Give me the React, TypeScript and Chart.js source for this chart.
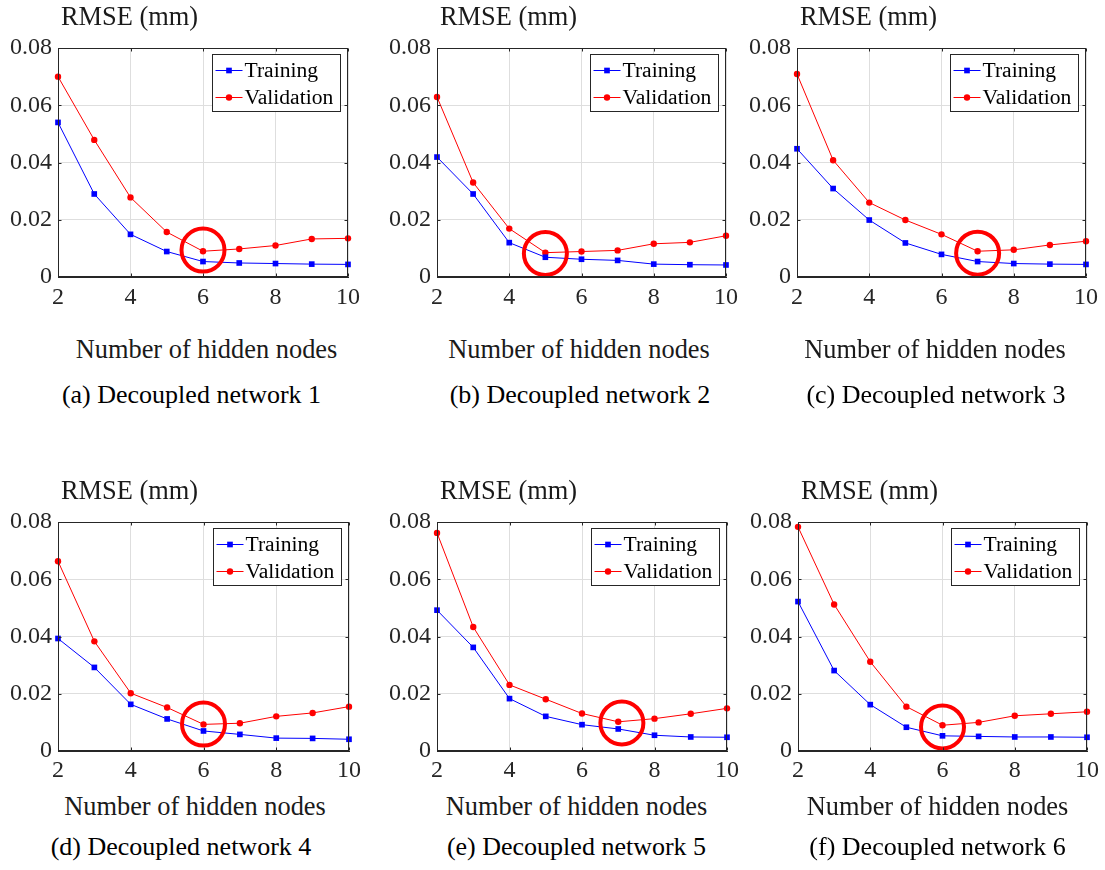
import React, { useEffect, useRef } from "react";
import { Chart, registerables } from "chart.js";

Chart.register(...registerables);

// ---------- data ----------
const hiddenNodes = [2, 3, 4, 5, 6, 7, 8, 9, 10];
const xTickValues = [2, 4, 6, 8, 10];
const xTickLabels = ["2", "4", "6", "8", "10"];
const yTickValues = [0, 0.02, 0.04, 0.06, 0.08];
const yTickLabels = ["0", "0.02", "0.04", "0.06", "0.08"];
const seriesNames = ["Training", "Validation"];
const xAxisTitle = "Number of hidden nodes";
const yAxisTitle = "RMSE (mm)";

const trainingA = [0.054, 0.029, 0.0149, 0.0089, 0.0054, 0.0049, 0.0047, 0.0045, 0.0044];
const validationA = [0.07, 0.0479, 0.0278, 0.0157, 0.009, 0.0098, 0.011, 0.0133, 0.0135];
const trainingB = [0.0419, 0.029, 0.012, 0.0069, 0.0062, 0.0058, 0.0045, 0.0043, 0.0042];
const validationB = [0.0629, 0.033, 0.0169, 0.0085, 0.0089, 0.0093, 0.0116, 0.0121, 0.0144];
const trainingC = [0.0448, 0.0309, 0.0199, 0.0119, 0.0079, 0.0054, 0.0047, 0.0045, 0.0044];
const validationC = [0.0709, 0.0408, 0.026, 0.0199, 0.0149, 0.009, 0.0095, 0.0112, 0.0125];
const trainingD = [0.0393, 0.0292, 0.0163, 0.0112, 0.007, 0.0058, 0.0045, 0.0044, 0.0041];
const validationD = [0.0663, 0.0383, 0.0202, 0.0152, 0.0093, 0.0097, 0.0121, 0.0133, 0.0155];
const trainingE = [0.0492, 0.0362, 0.0183, 0.0121, 0.0092, 0.0077, 0.0055, 0.0049, 0.0048];
const validationE = [0.0762, 0.0433, 0.0231, 0.0181, 0.0131, 0.0102, 0.0113, 0.013, 0.0149];
const trainingF = [0.0522, 0.0281, 0.0162, 0.0083, 0.0053, 0.0051, 0.0049, 0.0049, 0.0048];
const validationF = [0.0783, 0.0512, 0.0312, 0.0155, 0.009, 0.01, 0.0123, 0.013, 0.0137];

// highlighted optimum (circle centre, data units)
const circleX = [6, 5, 7, 6, 7.1, 6];
const circleY = [0.0094, 0.0082, 0.0083, 0.0094, 0.0098, 0.0084];

const captions = [
  "(a) Decoupled network 1",
  "(b) Decoupled network 2",
  "(c) Decoupled network 3",
  "(d) Decoupled network 4",
  "(e) Decoupled network 5",
  "(f) Decoupled network 6",
];

const trainingSeries = [trainingA, trainingB, trainingC, trainingD, trainingE, trainingF];
const validationSeries = [validationA, validationB, validationC, validationD, validationE, validationF];

// ---------- layout (pixels) ----------
const FONT = '"Liberation Serif", "Times New Roman", serif';
const Y_AXIS_W = 58;
const X_AXIS_H = 40;
const PAD_RIGHT = 14;

type PanelLayout = {
  plotL: number; plotR: number; plotT: number; plotB: number;
  canvasTop: number; tickPad: number;
  labelCx: number; labelBase: number; capCx: number; capBase: number;
};

const layouts: PanelLayout[] = [
  { plotL: 58, plotR: 352, plotT: 48, plotB: 277, canvasTop: 0, tickPad: 6, labelCx: 206.5, labelBase: 358, capCx: 191.5, capBase: 404 },
  { plotL: 437, plotR: 730, plotT: 48, plotB: 277, canvasTop: 0, tickPad: 6, labelCx: 579, labelBase: 358, capCx: 580, capBase: 404 },
  { plotL: 797, plotR: 1090, plotT: 48, plotB: 277, canvasTop: 0, tickPad: 6, labelCx: 935, labelBase: 358, capCx: 936, capBase: 404 },
  { plotL: 58, plotR: 352, plotT: 522, plotB: 751, canvasTop: 470, tickPad: 5, labelCx: 195, labelBase: 815, capCx: 181, capBase: 856 },
  { plotL: 437, plotR: 730, plotT: 522, plotB: 751, canvasTop: 470, tickPad: 5, labelCx: 576.5, labelBase: 815, capCx: 576.5, capBase: 856 },
  { plotL: 798, plotR: 1090, plotT: 522, plotB: 751, canvasTop: 470, tickPad: 5, labelCx: 937.5, labelBase: 815, capCx: 937.5, capBase: 856 },
];

function Panel({ idx }: { idx: number }) {
  const ref = useRef<HTMLCanvasElement>(null);
  const L = layouts[idx];
  const canvasLeft = L.plotL - Y_AXIS_W;
  const canvasW = L.plotR - canvasLeft + PAD_RIGHT;
  const padTop = L.plotT - L.canvasTop;
  const canvasH = L.plotB - L.canvasTop + X_AXIS_H;

  useEffect(() => {
    const canvas = ref.current;
    if (!canvas) return;

    const decorPlugin = {
      id: "decor" + idx,
      afterDatasetsDraw(chart: any) {
        const { ctx, scales } = chart;
        const cx = scales.x.getPixelForValue(circleX[idx]);
        const cy = scales.y.getPixelForValue(circleY[idx]);
        ctx.save();
        ctx.beginPath();
        ctx.arc(cx, cy, 21.5, 0, Math.PI * 2);
        ctx.strokeStyle = "#ff0000";
        ctx.lineWidth = 4;
        ctx.stroke();
        ctx.restore();
      },
      afterDraw(chart: any) {
        const { ctx, chartArea: a, scales } = chart;
        ctx.save();
        // full box
        const l = Math.round(a.left) + 0.5;
        const r = Math.round(a.right) - 0.5;
        const t = Math.round(a.top) + 0.5;
        const b = Math.round(a.bottom) - 0.5;
        ctx.strokeStyle = "#262626";
        ctx.lineWidth = 1;
        ctx.strokeRect(l, t, r - l, b - t);
        // inward tick marks
        ctx.beginPath();
        xTickValues.forEach((v) => {
          const px = Math.round(scales.x.getPixelForValue(v)) + 0.5;
          ctx.moveTo(px, b); ctx.lineTo(px, b - 3);
          ctx.moveTo(px, t); ctx.lineTo(px, t + 3);
        });
        yTickValues.forEach((v) => {
          const py = Math.round(scales.y.getPixelForValue(v)) + 0.5;
          ctx.moveTo(l, py); ctx.lineTo(l + 3, py);
          ctx.moveTo(r, py); ctx.lineTo(r - 3, py);
        });
        ctx.stroke();

        // y-axis title above the plot
        ctx.font = `26.4px ${FONT}`;
        ctx.fillStyle = "#1a1a1a";
        ctx.textAlign = "left";
        ctx.textBaseline = "alphabetic";
        ctx.fillText(yAxisTitle, a.left + 3, a.top - 23);

        // legend box
        const ds = chart.data.datasets;
        ctx.font = `21.6px ${FONT}`;
        const textW = Math.max(...ds.map((d: any) => ctx.measureText(d.label).width));
        const boxW = Math.round(3 + 27 + 2 + textW + 7);
        const boxH = 57;
        const bx = Math.round(a.right - 8 - boxW) + 0.5;
        const by = Math.round(a.top + 6) + 0.5;
        ctx.fillStyle = "#ffffff";
        ctx.fillRect(bx, by, boxW, boxH);
        ctx.strokeStyle = "#262626";
        ctx.lineWidth = 1;
        ctx.strokeRect(bx, by, boxW, boxH);
        ds.forEach((d: any, i: number) => {
          const ry = by + 16 + i * 27;
          ctx.beginPath();
          ctx.strokeStyle = d.borderColor;
          ctx.lineWidth = 1;
          ctx.moveTo(bx + 3, ry);
          ctx.lineTo(bx + 30, ry);
          ctx.stroke();
          ctx.fillStyle = d.borderColor;
          const mx = bx + 16.5;
          if (d.pointStyle === "rect") {
            const s = d.pointRadius * Math.SQRT1_2;
            ctx.fillRect(mx - s, ry - s, 2 * s, 2 * s);
          } else {
            ctx.beginPath();
            ctx.arc(mx, ry, d.pointRadius, 0, Math.PI * 2);
            ctx.fill();
          }
          ctx.fillStyle = "#000000";
          ctx.textAlign = "left";
          ctx.textBaseline = "middle";
          ctx.fillText(d.label, bx + 32, ry + 1);
        });
        ctx.restore();
      },
    };

    const tickFont = { family: FONT, size: 24 };
    const chart = new Chart(canvas, {
      type: "line",
      data: {
        datasets: [
          {
            label: seriesNames[0],
            data: hiddenNodes.map((x, i) => ({ x, y: trainingSeries[idx][i] })),
            borderColor: "#0000ff",
            backgroundColor: "#0000ff",
            pointBackgroundColor: "#0000ff",
            borderWidth: 1,
            pointStyle: "rect",
            pointRadius: 4,
            pointBorderWidth: 0,
            tension: 0,
            clip: false as any,
          },
          {
            label: seriesNames[1],
            data: hiddenNodes.map((x, i) => ({ x, y: validationSeries[idx][i] })),
            borderColor: "#ff0000",
            backgroundColor: "#ff0000",
            pointBackgroundColor: "#ff0000",
            borderWidth: 1,
            pointStyle: "circle",
            pointRadius: 3.2,
            pointBorderWidth: 0,
            tension: 0,
            clip: false as any,
          },
        ],
      },
      options: {
        responsive: false,
        animation: false,
        devicePixelRatio: 1,
        events: [],
        layout: { padding: { top: padTop, right: PAD_RIGHT, left: 0, bottom: 0 } },
        plugins: {
          legend: { display: false },
          tooltip: { enabled: false },
          title: { display: false },
        },
        scales: {
          x: {
            type: "linear",
            min: 2,
            max: 10,
            afterFit: (s: any) => { s.height = X_AXIS_H; },
            afterBuildTicks: (s: any) => { s.ticks = xTickValues.map((v) => ({ value: v })); },
            ticks: {
              font: tickFont,
              color: "#262626",
              padding: L.tickPad,
              maxRotation: 0,
              autoSkip: false,
              callback: (_v: any, i: number) => xTickLabels[i],
            },
            grid: { color: "#dedede", lineWidth: 1, drawTicks: false },
            border: { color: "#262626", width: 1 },
          },
          y: {
            type: "linear",
            min: 0,
            max: 0.08,
            afterFit: (s: any) => { s.width = Y_AXIS_W; },
            afterBuildTicks: (s: any) => { s.ticks = yTickValues.map((v) => ({ value: v })); },
            ticks: {
              font: tickFont,
              color: "#262626",
              padding: 6,
              autoSkip: false,
              callback: (_v: any, i: number) => yTickLabels[i],
            },
            grid: { color: "#dedede", lineWidth: 1, drawTicks: false },
            border: { color: "#262626", width: 1 },
          },
        },
      } as any,
      plugins: [decorPlugin],
    });
    return () => chart.destroy();
  }, [idx]);

  const labelSize = 26.4;
  const capSize = 26;
  return (
    <>
      <canvas
        ref={ref}
        width={canvasW}
        height={canvasH}
        style={{ position: "absolute", left: canvasLeft, top: L.canvasTop, width: canvasW, height: canvasH }}
      />
      <div
        style={{
          position: "absolute",
          left: L.labelCx - 200,
          width: 400,
          top: L.labelBase - 0.8375 * labelSize,
          textAlign: "center",
          fontFamily: FONT,
          fontSize: labelSize,
          lineHeight: `${labelSize}px`,
          color: "#1a1a1a",
          whiteSpace: "nowrap",
        }}
      >
        {xAxisTitle}
      </div>
      <div
        style={{
          position: "absolute",
          left: L.capCx - 200,
          width: 400,
          top: L.capBase - 0.8375 * capSize,
          textAlign: "center",
          fontFamily: FONT,
          fontSize: capSize,
          lineHeight: `${capSize}px`,
          color: "#000000",
          whiteSpace: "nowrap",
        }}
      >
        {captions[idx]}
      </div>
    </>
  );
}

export default function App() {
  return (
    <div style={{ position: "absolute", left: 0, top: 0, width: 1105, height: 870, background: "#ffffff", overflow: "hidden" }}>
      {layouts.map((_, i) => (
        <Panel key={i} idx={i} />
      ))}
    </div>
  );
}
